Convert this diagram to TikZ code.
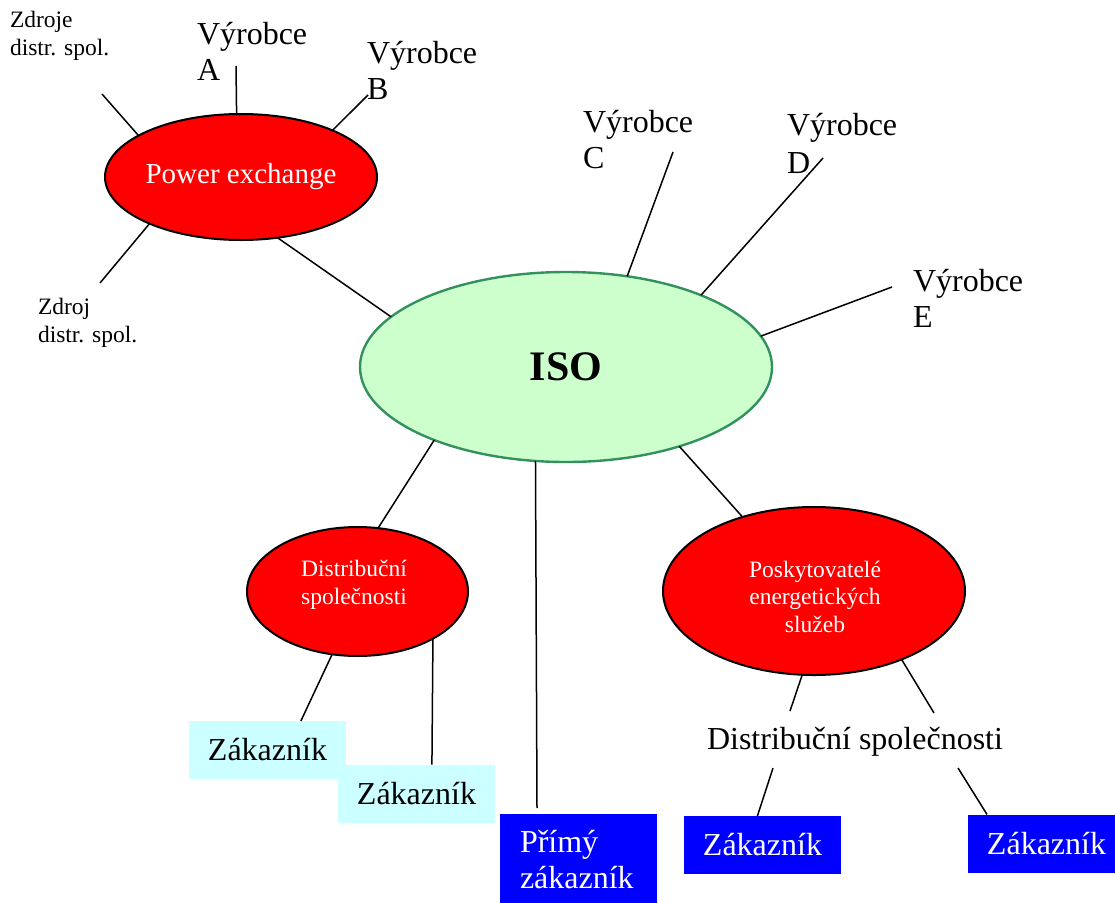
\documentclass[tikz,border=0pt]{standalone}
\usepackage{fontspec}
\setmainfont{Liberation Serif}
\usetikzlibrary{shapes.geometric}
\definecolor{pered}{RGB}{255,0,0}
\definecolor{isofill}{RGB}{204,255,204}
\definecolor{isoborder}{RGB}{51,145,95}
\definecolor{zcyan}{RGB}{204,255,255}
\definecolor{zblue}{RGB}{0,0,255}
\tikzset{
  conn/.style={draw=black, line width=1.5pt},
  redell/.style={ellipse, draw=black, line width=2pt, fill=pered, text=white, inner sep=0pt, outer sep=0pt},
  isoell/.style={ellipse, draw=isoborder, line width=2.4pt, fill=isofill, inner sep=0pt, outer sep=0pt, font=\fontsize{42}{46}\selectfont\bfseries},
  bigtxt/.style={font=\fontsize{32}{35.5}\selectfont, inner sep=0pt, outer sep=0pt, align=left},
  smalltxt/.style={font=\fontsize{23.5}{28}\selectfont, inner sep=0pt, outer sep=0pt, align=left},
  celltxt/.style={font=\fontsize{23.5}{27.5}\selectfont, text=white, inner sep=0pt, outer sep=0pt, align=center},
  cyanbox/.style={rectangle, fill=zcyan, inner sep=0pt, outer sep=0pt, minimum width=157pt, minimum height=58pt, font=\fontsize{32}{36}\selectfont},
  bluebox/.style={rectangle, fill=zblue, text=white, inner sep=0pt, outer sep=0pt, minimum width=157pt, minimum height=58pt, font=\fontsize{32}{36}\selectfont},
}
\begin{document}
\begin{tikzpicture}[x=1pt,y=-1pt]
\useasboundingbox (0,0) rectangle (1115,902);
\clip (0,0) rectangle (1115,902);

% ellipses
\node[redell, minimum width=272pt, minimum height=126pt, font=\fontsize{29}{33}\selectfont] (pe) at (241,177) {Power exchange};
\node[isoell, minimum width=412pt, minimum height=190pt] (iso) at (566,367) {ISO};
\node[redell, minimum width=221pt, minimum height=129pt] (dist) at (357.5,591.5) {};
\node[celltxt, anchor=base] (distt) at (354,604) {Distribuční\\společnosti};
\node[redell, minimum width=302pt, minimum height=168pt] (posk) at (814,591) {};
\node[celltxt, anchor=base] (poskt) at (815,632) {Poskytovatelé\\energetických\\služeb};

% labels (anchor base = baseline of the last line)
\node[smalltxt, anchor=base west] (zd1) at (10,55) {Zdroje\\distr. spol.};
\node[smalltxt, anchor=base west] (zd2) at (38,342) {Zdroj\\distr. spol.};
\node[bigtxt, anchor=base west] (va) at (197,80) {Výrobce\\A};
\node[bigtxt, anchor=base west] (vb) at (367,99) {Výrobce\\B};
\node[bigtxt, anchor=base west] (vc) at (583,168) {Výrobce\\C};
\node[bigtxt, anchor=base west, font=\fontsize{32}{38}\selectfont] (vd) at (787,173) {Výrobce\\D};
\node[bigtxt, anchor=base west] (ve) at (913,327) {Výrobce\\E};
\node[bigtxt, anchor=base west] (ds) at (707,749) {Distribuční společnosti};

% boxes
\node[cyanbox] (z1) at (267.5,750) {Zákazník};
\node[cyanbox] (z2) at (416.5,793.5) {Zákazník};
\node[bluebox, anchor=north west, minimum height=95pt] (pz) at (500,814) {};
\node[bigtxt, text=white, anchor=base west] (pzt) at (520,888) {Přímý\\zákazník};
\node[bluebox] (zb1) at (762.5,845) {Zákazník};
\node[bluebox] (zb2) at (1046.5,843.5) {Zákazník};

% free ends
\coordinate (czd1) at (102,94);
\coordinate (cva) at (236,66);
\coordinate (cvb) at (368,95);
\coordinate (czd2) at (100,283);
\coordinate (cvc) at (673,152);
\coordinate (cvd) at (823,158);
\coordinate (cve) at (892,287);
\coordinate (cpz) at (537,808);
\coordinate (cds1) at (790,711);
\coordinate (cds2) at (934,713);
\coordinate (cds3) at (773,768);
\coordinate (cds4) at (958,768);

% connectors
\draw[conn] (czd1) -- (pe.158.8);
\draw[conn] (cva) -- (pe.94.6);
\draw[conn] (cvb) -- (pe.27.4);
\draw[conn] (czd2) -- (pe.207);
\draw[conn] (pe.301) -- (iso.164.9);
\draw[conn] (cvc) -- (iso.56.3);
\draw[conn] (cvd) -- (iso.28.9);
\draw[conn] (cve) -- (iso.9.1);
\draw[conn] (iso.209.8) -- (dist.72.5);
\draw[conn] (iso.252.85) -- (cpz);
\draw[conn] (iso.325.5) -- (posk.134.6);
\draw[conn] (dist.248.1) -- (z1.41.7);
\draw[conn] (dist.328) -- (z2.62.3);
\draw[conn] (posk.262) -- (cds1);
\draw[conn] (posk.322) -- (cds2);
\draw[conn] (cds3) -- (zb1.100.7);
\draw[conn] (cds4) -- (zb2.154.4);
\end{tikzpicture}
\end{document}
